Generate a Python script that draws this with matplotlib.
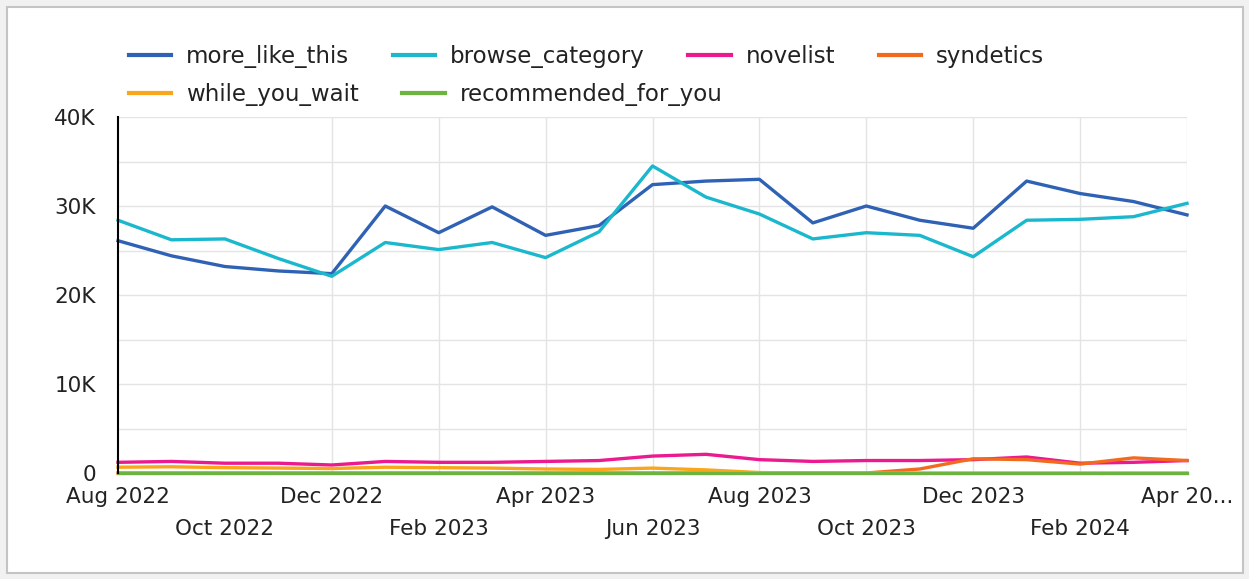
import matplotlib.pyplot as plt
from matplotlib.patches import Rectangle

months = ["Aug 2022", "Sep 2022", "Oct 2022", "Nov 2022", "Dec 2022",
          "Jan 2023", "Feb 2023", "Mar 2023", "Apr 2023", "May 2023",
          "Jun 2023", "Jul 2023", "Aug 2023", "Sep 2023", "Oct 2023",
          "Nov 2023", "Dec 2023", "Jan 2024", "Feb 2024", "Mar 2024",
          "Apr 20..."]

more_like_this = [26.1, 24.4, 23.2, 22.7, 22.4, 30.0, 27.0, 29.9, 26.7, 27.8,
                  32.4, 32.8, 33.0, 28.1, 30.0, 28.4, 27.5, 32.8, 31.4, 30.5, 29.0]
browse_category = [28.4, 26.2, 26.3, 24.1, 22.1, 25.9, 25.1, 25.9, 24.2, 27.1,
                   34.5, 31.0, 29.1, 26.3, 27.0, 26.7, 24.3, 28.4, 28.5, 28.8, 30.3]
novelist = [1.2, 1.3, 1.1, 1.1, 0.9, 1.3, 1.2, 1.2, 1.3, 1.4,
            1.9, 2.1, 1.5, 1.3, 1.4, 1.4, 1.5, 1.8, 1.1, 1.2, 1.4]
syndetics = [0, 0, 0, 0, 0, 0, 0, 0, 0, 0,
             0, 0, 0, 0, 0, 0.45, 1.6, 1.5, 1.0, 1.7, 1.4]
while_you_wait = [0.65, 0.7, 0.6, 0.55, 0.5, 0.65, 0.6, 0.55, 0.45, 0.4,
                  0.55, 0.35, 0.05, 0, 0, 0, 0, 0, 0, 0, 0]
recommended_for_you = [0.02] * 21

series = [
    ("more_like_this", more_like_this, "#2f62b4"),
    ("browse_category", browse_category, "#1bb8cd"),
    ("novelist", novelist, "#ec1a8f"),
    ("syndetics", syndetics, "#f26a1e"),
    ("while_you_wait", while_you_wait, "#f9a61a"),
    ("recommended_for_you", recommended_for_you, "#6cb33f"),
]

plt.rcParams["font.family"] = "DejaVu Sans"
fig = plt.figure(figsize=(12.49, 5.79), dpi=100)
fig.patch.set_facecolor("#f1f1f1")
fig.patches.append(Rectangle((7 / 1249, 6 / 579), 1236 / 1249, 566 / 579,
                             transform=fig.transFigure, facecolor="white",
                             edgecolor="#c4c4c4", lw=1.5, zorder=-10))

ax = fig.add_axes([118 / 1249, 1 - 473 / 579, (1187 - 118) / 1249, (473 - 117) / 579])
ax.set_facecolor("none")

x = list(range(len(months)))
lines = {}
for name, vals, col in series:
    lines[name], = ax.plot(x, [v * 1000 for v in vals], color=col, lw=2.4,
                           label=name, solid_joinstyle="round", clip_on=False)

ax.set_xlim(0, 20)
ax.set_ylim(0, 40000)

# grid
for v in range(5000, 40001, 5000):
    ax.axhline(v, color="#e4e4e4", lw=1, zorder=0)
for i in range(4, 21, 2):
    ax.axvline(i, color="#e4e4e4", lw=1, zorder=0)

ax.set_yticks([0, 10000, 20000, 30000, 40000])
ax.set_yticklabels(["0", "10K", "20K", "30K", "40K"])
ticks = list(range(0, 21, 2))
labels = [months[i] if (i // 2) % 2 == 0 else "\n" + months[i] for i in ticks]
ax.set_xticks(ticks)
ax.set_xticklabels(labels, linespacing=1.75)
ax.tick_params(axis="both", length=0, labelsize=15.5, colors="#222222")
ax.tick_params(axis="y", pad=16)
ax.tick_params(axis="x", pad=10)

for s in ["top", "right", "bottom"]:
    ax.spines[s].set_visible(False)
ax.spines["left"].set_color("black")
ax.spines["left"].set_linewidth(1.5)

# legend flows in two rows like the original
rows = [["more_like_this", "browse_category", "novelist", "syndetics"],
        ["while_you_wait", "recommended_for_you"]]
for r, names in enumerate(rows):
    leg = fig.legend([lines[n] for n in names], names, loc="upper left",
                     bbox_to_anchor=(108 / 1249, 1 - (24 + 38 * r) / 579),
                     ncol=len(names), frameon=False, fontsize=16.5,
                     handlelength=1.85, handletextpad=0.65, columnspacing=1.9,
                     labelcolor="#222222")
    for h in leg.legend_handles:
        h.set_linewidth(3)

fig.savefig("out.png", dpi=100, facecolor=fig.get_facecolor())
